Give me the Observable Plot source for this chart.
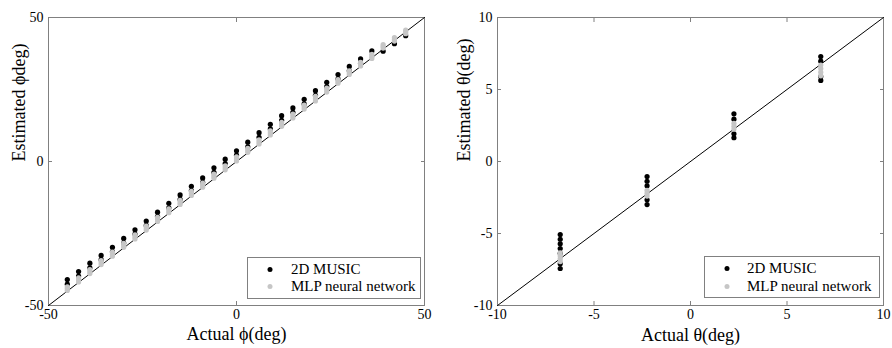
<!DOCTYPE html>
<html><head><meta charset="utf-8">
<script src="https://cdn.jsdelivr.net/npm/d3@7"></script>
<script src="https://cdn.jsdelivr.net/npm/@observablehq/plot@0.6"></script>
<style>
body{margin:0;background:#fff;}
#wrap{position:relative;width:892px;height:348px;overflow:hidden;font-family:"Liberation Serif","Times New Roman",serif;}
.panel{position:absolute;top:0;}
.legend{position:absolute;}
</style></head><body><div id="wrap"></div>
<script>
// ---- data: left panel (azimuth phi) ----
const phiActual = [-45,-42,-39,-36,-33,-30,-27,-24,-21,-18,-15,-12,-9,-6,-3,0,3,6,9,12,15,18,21,24,27,30,33,36,39,42,45];
const musicPhiA = [-41.0,-38.2,-35.3,-32.6,-29.8,-26.7,-23.7,-20.7,-17.6,-14.5,-11.6,-8.6,-5.7,-2.2,0.8,3.7,6.7,10.0,12.9,15.9,18.6,21.6,24.6,27.5,30.2,33.0,35.6,38.4,38.3,40.9,43.7];
const musicPhiB = [-42.6,-39.8,-36.9,-34.1,-31.3,-28.3,-25.2,-22.2,-19.1,-16.1,-13.1,-10.1,-7.2,-3.8,-0.7,2.2,5.1,8.4,11.3,14.3,17.1,20.0,23.0,26.0,28.7,31.5,34.1,null,null,null,null];
const mlpPhiA = [-43.5,-40.4,-37.5,-34.4,-31.5,-28.4,-25.5,-22.4,-19.4,-16.4,-13.5,-10.4,-7.5,-4.4,-1.5,1.6,4.6,7.5,10.6,13.6,16.5,19.6,22.6,25.5,28.4,31.5,34.4,37.2,40.6,43.0,45.6];
const mlpPhiB = [-44.1,-41.1,-38.2,-35.1,-32.2,-29.1,-26.2,-23.1,-20.1,-17.1,-14.2,-11.1,-8.2,-5.1,-2.2,0.9,3.9,6.8,9.9,12.9,15.8,18.9,21.8,24.8,27.8,30.8,33.8,36.5,40.0,42.4,45.0];
const mlpPhiC = [-44.8,-41.8,-38.9,-35.8,-32.9,-29.8,-26.9,-23.8,-20.8,-17.8,-14.9,-11.8,-8.9,-5.8,-2.9,0.2,3.2,6.1,9.2,12.2,15.1,18.2,21.0,24.1,27.2,30.2,33.2,35.8,39.4,41.8,44.4];
const phiDomain = [-50, 50];
const phiTicks = [-50, 0, 50];

// ---- data: right panel (elevation theta) ----
const thetaActual = [-6.75, -2.25, 2.25, 6.75];
const musicTheta = [
  [-5.07,-5.4,-5.72,-6.04,-6.37,-7.1,-7.43],
  [-1.04,-1.37,-1.69,-2.66,-2.99],
  [3.31,2.94,1.92,1.65],
  [7.29,6.97,5.9,5.63]
];
const mlpTheta = [
  [-6.35,-6.55,-6.75,-6.95],
  [-2.0,-2.2,-2.4],
  [2.65,2.45,2.25],
  [6.7,6.45,6.2,5.95]
];
const thetaDomain = [-10, 10];
const thetaTicks = [-10, -5, 0, 5, 10];

// ---- labels ----
const seriesNames = ["2D MUSIC", "MLP neural network"];
const phiXLabel = "Actual \u03D5(deg)";
const phiYLabel = "Estimated \u03D5deg)";
const thetaXLabel = "Actual \u03B8(deg)";
const thetaYLabel = "Estimated \u03B8(deg)";

const MUSIC_COLOR = "#000000";
const MLP_COLOR = "#c6c6c6";
const FRAME = "#808080";
const FONT = "'Liberation Serif', 'Times New Roman', serif";

const phiMusicRows = phiActual.flatMap((x, i) => [musicPhiA[i], musicPhiB[i]].filter(v => v != null).map(y => ({x, y})));
const phiMlpRows = phiActual.flatMap((x, i) => [mlpPhiA[i], mlpPhiB[i], mlpPhiC[i]].map(y => ({x, y})));
const thetaMusicRows = thetaActual.flatMap((x, i) => musicTheta[i].map(y => ({x, y})));
const thetaMlpRows = thetaActual.flatMap((x, i) => mlpTheta[i].map(y => ({x, y})));

function panel({width, marginLeft, marginRight, domain, ticks, music, mlp, xLabel, yLabel, yLabelDx, xLabelDy, r}) {
  const blank = () => "";
  const plain = d => String(d);
  return Plot.plot({
    width, height: 348, marginLeft, marginRight, marginTop: 17, marginBottom: 43,
    style: {fontFamily: FONT, fontSize: "14px", color: "#000", background: "#fff", overflow: "visible"},
    x: {domain, label: null},
    y: {domain, label: null},
    marks: [
      Plot.frame({stroke: FRAME}),
      // tick labels
      Plot.axisX(ticks, {anchor: "bottom", tickSize: 0, tickPadding: 4, tickFormat: plain, fontSize: 14, fontFamily: FONT, fill: "#000"}),
      Plot.axisY(ticks, {anchor: "left", tickSize: 0, tickPadding: 5, tickFormat: plain, fontSize: 14, fontFamily: FONT, fill: "#000"}),
      // inward ticks on all four sides
      Plot.axisX(ticks, {anchor: "bottom", tickSize: 4, dy: -4, tickFormat: blank, stroke: FRAME}),
      Plot.axisX(ticks, {anchor: "top", tickSize: 4, dy: 4, tickFormat: blank, stroke: FRAME}),
      Plot.axisY(ticks, {anchor: "left", tickSize: 4, dx: 4, tickFormat: blank, stroke: FRAME}),
      Plot.axisY(ticks, {anchor: "right", tickSize: 4, dx: -4, tickFormat: blank, stroke: FRAME}),
      // ideal line y = x
      Plot.lineY(domain, {x: d => d, y: d => d, stroke: "#000", strokeWidth: 1}),
      Plot.dot(music, {x: "x", y: "y", r, fill: MUSIC_COLOR, stroke: null}),
      Plot.dot(mlp, {x: "x", y: "y", r, fill: MLP_COLOR, stroke: null}),
      Plot.text([xLabel], {frameAnchor: "bottom", text: d => d, dy: xLabelDy, lineAnchor: "bottom", fontSize: 18, fontFamily: FONT, fill: "#000"}),
      Plot.text([yLabel], {frameAnchor: "left", text: d => d, dx: yLabelDx, rotate: -90, lineAnchor: "bottom", fontSize: 18, fontFamily: FONT, fill: "#000"})
    ]
  });
}

function legend(left, top, w, h, dotX, rowsY, textX) {
  const svg = d3.create("svg").attr("class", "legend").attr("width", w).attr("height", h)
    .style("left", left + "px").style("top", top + "px");
  svg.append("rect").attr("x", 0.5).attr("y", 0.5).attr("width", w - 1).attr("height", h - 1)
    .attr("fill", "#fff").attr("stroke", FRAME);
  const colors = [MUSIC_COLOR, MLP_COLOR];
  seriesNames.forEach((name, i) => {
    svg.append("circle").attr("cx", dotX).attr("cy", rowsY[i] - 4.5).attr("r", 2.5).attr("fill", colors[i]);
    svg.append("text").attr("x", textX).attr("y", rowsY[i]).style("font-family", FONT).style("font-size", "15px").attr("fill", "#000").text(name);
  });
  return svg.node();
}

const wrap = document.getElementById("wrap");
const left = panel({width: 440, marginLeft: 48, marginRight: 16, domain: phiDomain, ticks: phiTicks,
  music: phiMusicRows, mlp: phiMlpRows, xLabel: phiXLabel, yLabel: phiYLabel, yLabelDx: -24, xLabelDy: 34, r: 2.6});
const right = panel({width: 452, marginLeft: 57, marginRight: 9, domain: thetaDomain, ticks: thetaTicks,
  music: thetaMusicRows, mlp: thetaMlpRows, xLabel: thetaXLabel, yLabel: thetaYLabel, yLabelDx: -28, xLabelDy: 35, r: 2.6});
const d1 = document.createElement("div"); d1.className = "panel"; d1.style.left = "0px"; d1.appendChild(left);
const d2 = document.createElement("div"); d2.className = "panel"; d2.style.left = "440px"; d2.appendChild(right);
wrap.appendChild(d1); wrap.appendChild(d2);
wrap.appendChild(legend(247, 257, 174, 42, 23, [17, 34], 44));
wrap.appendChild(legend(704, 256, 176, 42, 23, [17, 35], 43));
</script></body></html>
